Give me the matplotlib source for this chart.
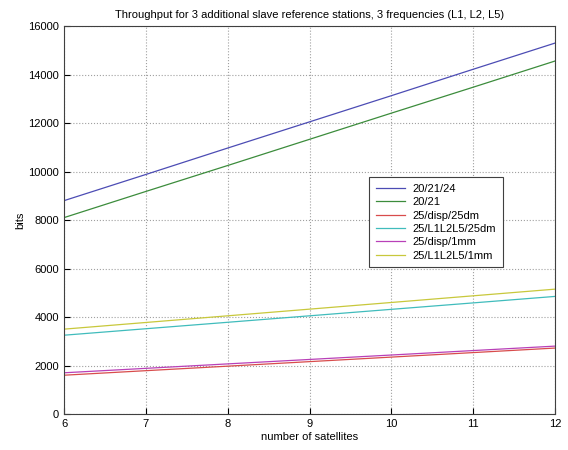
import matplotlib
matplotlib.use('Agg')
import matplotlib.pyplot as plt

plt.rcParams['font.family'] = ['Liberation Sans', 'DejaVu Sans']

# 卫星数
sats = [6, 7, 8, 9, 10, 11, 12]
# 各方案吞吐量 (bits)
s_202124 = [8800, 9880, 10970, 12050, 13130, 14220, 15300]
s_2021 = [8100, 9180, 10250, 11330, 12410, 13480, 14560]
s_disp25dm = [1600, 1787, 1973, 2160, 2347, 2533, 2720]
s_l125dm = [3250, 3517, 3783, 4050, 4317, 4583, 4850]
s_disp1mm = [1700, 1883, 2067, 2250, 2433, 2617, 2800]
s_l11mm = [3500, 3775, 4050, 4325, 4600, 4875, 5150]
labels = ['20/21/24', '20/21', '25/disp/25dm', '25/L1L2L5/25dm', '25/disp/1mm', '25/L1L2L5/1mm']
colors = ['#4c4cb4', '#3c8c3c', '#d84c4c', '#40bcbc', '#b840b8', '#c8c83c']

fig = plt.figure(figsize=(5.68, 4.5), dpi=100)
ax = fig.add_axes([0.1127, 0.08, 0.8645, 0.862])

series = [s_202124, s_2021, s_disp25dm, s_l125dm, s_disp1mm, s_l11mm]
for y, lab, c in zip(series, labels, colors):
    ax.plot(sats, y, color=c, lw=0.9, label=lab)

ax.set_xlim(6, 12)
ax.set_ylim(0, 16000)
ax.set_xticks(range(6, 13))
ax.set_yticks(range(0, 16001, 2000))
ax.grid(True, linestyle=':', color='#a0a0a0', lw=0.8)
ax.tick_params(direction='in', labelsize=8, length=4)
for sp in ax.spines.values():
    sp.set_color('#404040')
    sp.set_linewidth(0.8)

ax.set_xlabel('number of satellites', fontsize=8, labelpad=2)
ax.set_ylabel('bits', fontsize=8, labelpad=2)
ax.set_title('Throughput for 3 additional slave reference stations, 3 frequencies (L1, L2, L5)',
             fontsize=8, pad=6)

leg = ax.legend(loc='upper left', bbox_to_anchor=(0.622, 0.61), fontsize=8,
                frameon=True, fancybox=False, framealpha=1, edgecolor='#404040',
                handlelength=2.6, labelspacing=0.3, borderpad=0.6, handletextpad=0.7,
                borderaxespad=0)
leg.get_frame().set_linewidth(0.8)

fig.savefig('out.png', dpi=100)
